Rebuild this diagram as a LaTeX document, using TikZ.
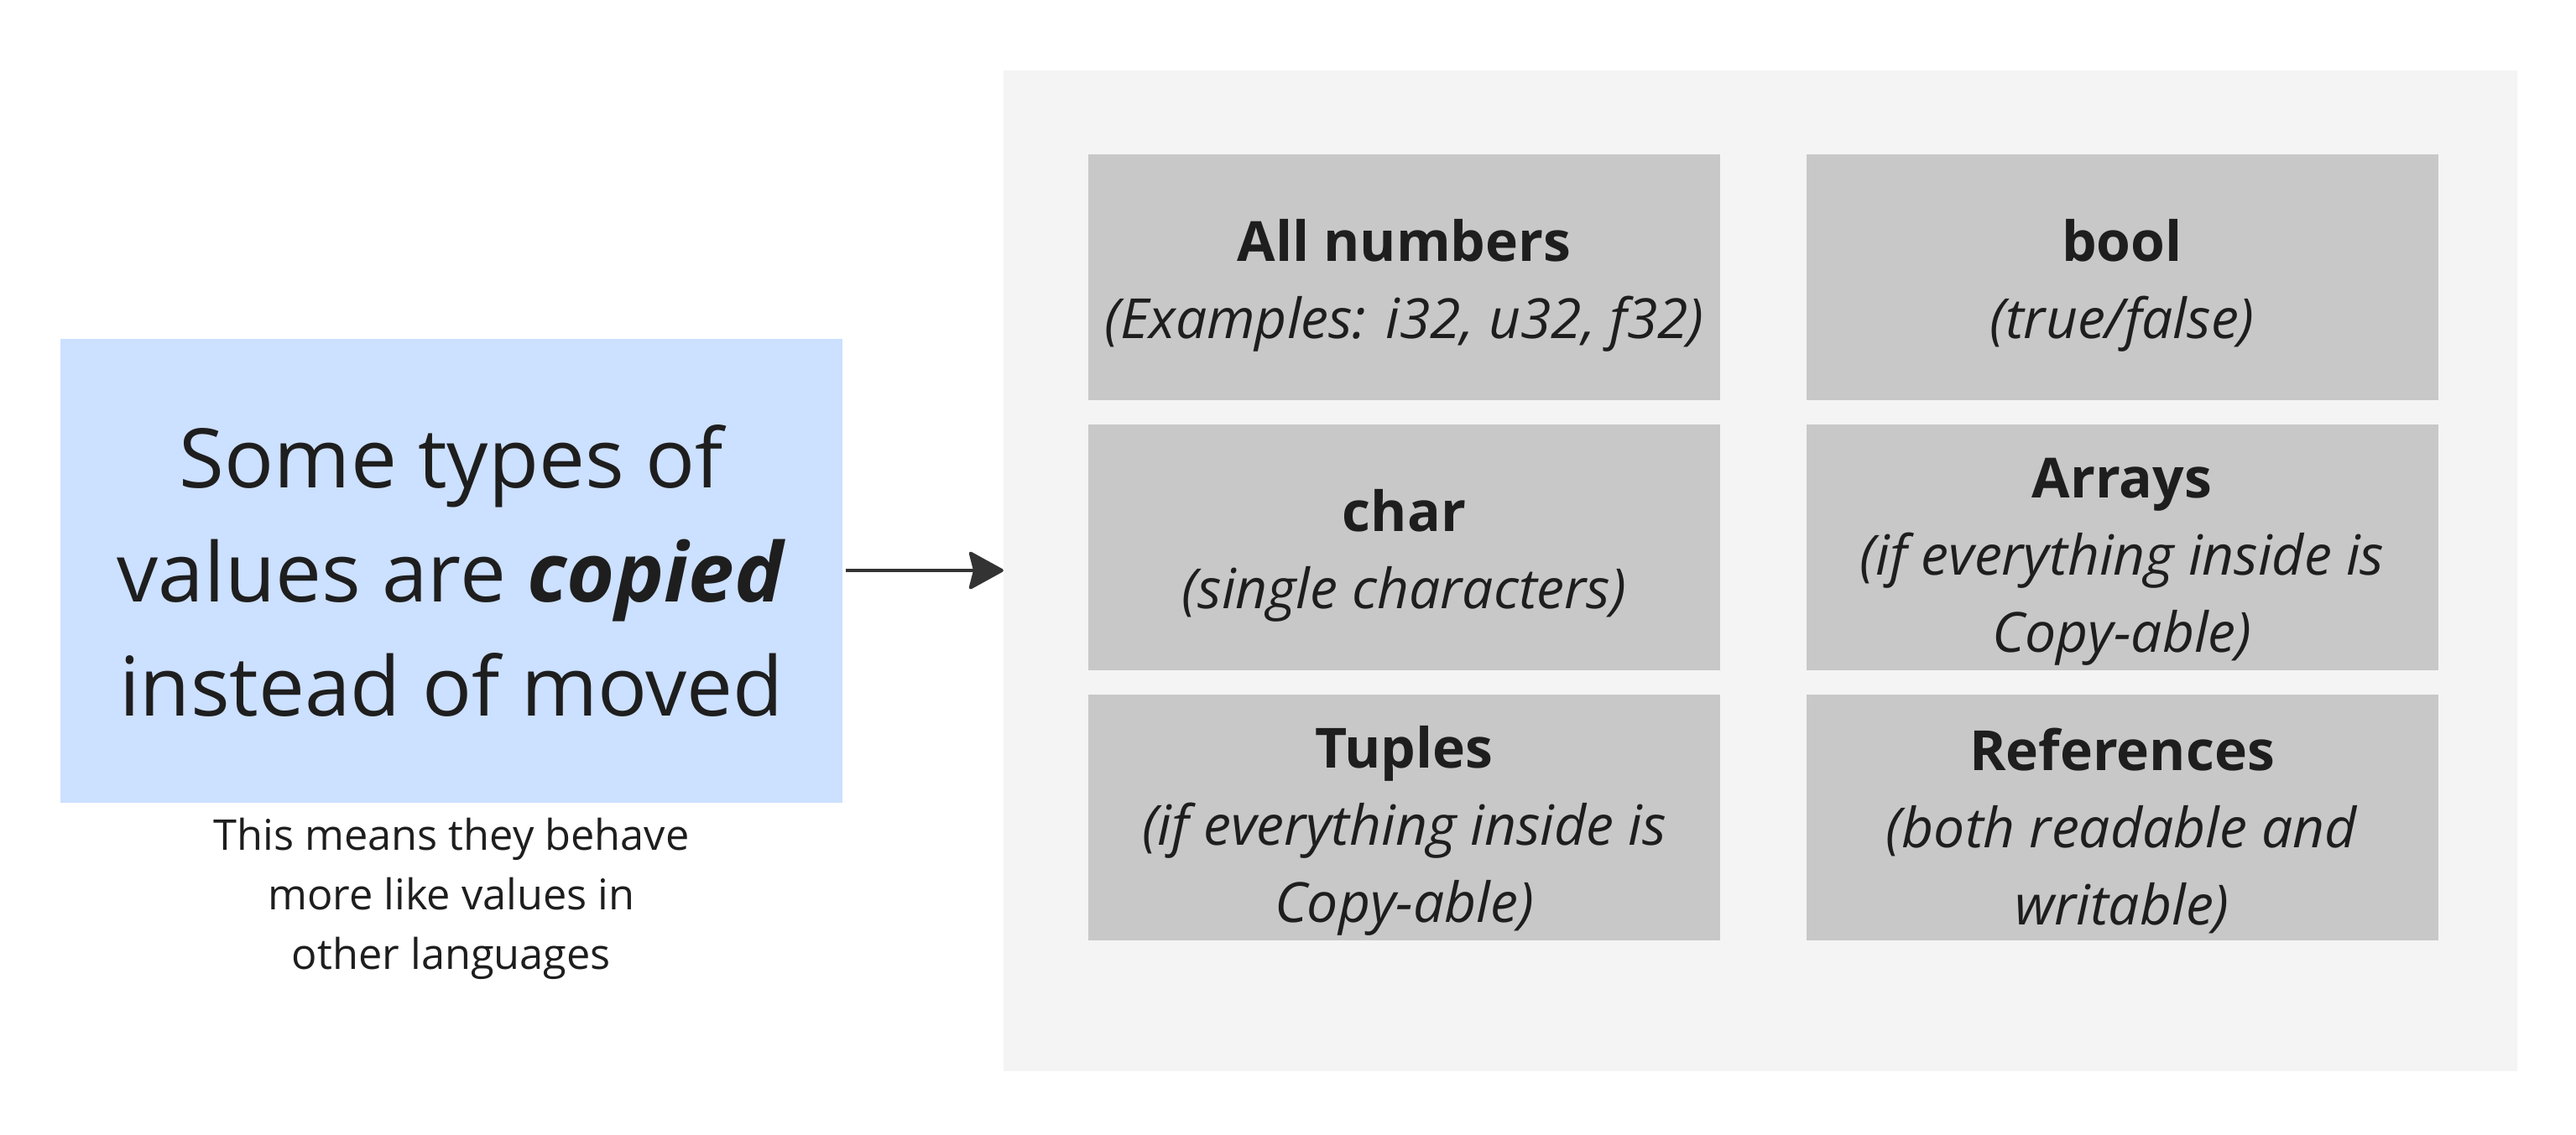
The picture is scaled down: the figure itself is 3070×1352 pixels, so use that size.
\documentclass[tikz,border=0pt]{standalone}
\usepackage{fontspec}
\setmainfont{Open Sans}
\usetikzlibrary{arrows.meta}
\definecolor{bluebox}{HTML}{CCE0FF}
\definecolor{panelgray}{HTML}{F4F4F4}
\definecolor{cellgray}{HTML}{C8C8C8}
\definecolor{textdark}{HTML}{1E1E1E}
\definecolor{arrowdark}{HTML}{333333}
\newcommand{\cellpad}[1]{\rule{0pt}{#1}}
\begin{document}
\begin{tikzpicture}[x=1pt,y=-1pt,
  mainbox/.style={rectangle, fill=bluebox, minimum width=932pt, minimum height=553pt, inner sep=0pt, align=center, text=textdark,
    font=\fontsize{98}{136}\selectfont},
  panel/.style={rectangle, fill=panelgray, minimum width=1804pt, minimum height=1193pt, inner sep=0pt},
  cell/.style={rectangle, fill=cellgray, minimum width=753pt, minimum height=293pt, inner sep=0pt, align=center, text=textdark,
    font=\fontsize{66}{92}\selectfont},
  caption/.style={align=center, text=textdark, inner sep=0pt, font=\fontsize{50.5}{71}\selectfont},
  conn/.style={draw=arrowdark, line width=4pt, -{Stealth[length=44pt,width=48pt,inset=6pt,round]}}
]
\useasboundingbox (0,0) rectangle (3070,1352);
\fill[white] (0,0) rectangle (3070,1352);

\node[mainbox] (main) at (538,680) {Some types of\\values are \textbf{\textit{copied}}\\instead of moved};
\node[caption, anchor=base] (cap) at (538,1155) {This means they behave\\more like values in\\other languages};

\node[panel] (panel) at (2098,680) {};

\node[cell] (num) at (1673.5,330.5) {\cellpad{70pt}\textbf{All numbers}\\\textit{(Examples: i32, u32, f32)}};
\node[cell] (bool) at (2529,330.5) {\cellpad{70pt}\textbf{bool}\\\textit{(true/false)}};
\node[cell] (char) at (1673.5,652.5) {\cellpad{70pt}\textbf{char}\\\textit{(single characters)}};
\node[cell] (arr) at (2529,652.5) {\cellpad{82pt}\textbf{Arrays}\\\textit{(if everything inside is}\\\textit{Copy-able)}};
\node[cell] (tup) at (1673.5,974.5) {\cellpad{82pt}\textbf{Tuples}\\\textit{(if everything inside is}\\\textit{Copy-able)}};
\node[cell] (refs) at (2529,974.5) {\cellpad{82pt}\textbf{References}\\\textit{(both readable and}\\\textit{writable)}};

\draw[conn, shorten <=4pt] (main.east) -- (panel.west);
\end{tikzpicture}
\end{document}
